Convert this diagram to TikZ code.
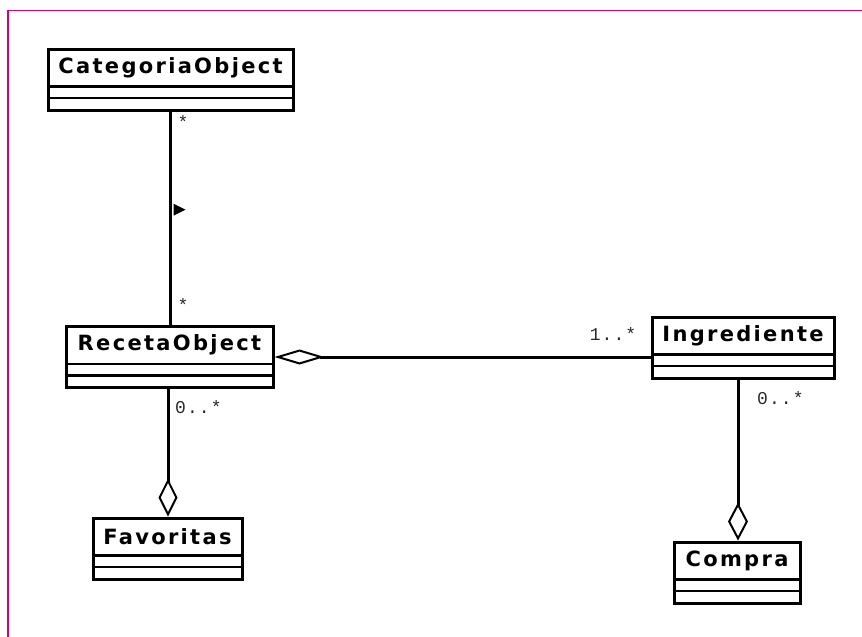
\documentclass[tikz,border=0pt]{standalone}
\usepackage{fontspec}
\setmainfont{DejaVu Sans}
\newfontfamily\clsfont[LetterSpace=11]{DejaVu Sans Bold}
\newfontfamily\multfont[LetterSpace=6]{Liberation Mono}
\usetikzlibrary{arrows.meta,calc}
\definecolor{framepink}{RGB}{214,0,112}
\definecolor{multgray}{RGB}{40,40,40}
\tikzset{
  classbox/.style={draw, line width=3pt, inner sep=0pt, fill=white},
  classname/.style={font=\clsfont\fontsize{21}{21}\selectfont, inner sep=0pt, anchor=center},
  divider/.style={line width=2.6pt},
  assoc/.style={line width=3pt},
  mult/.style={font=\multfont\fontsize{18}{18}\selectfont, text=multgray, inner sep=0pt},
}
% class box: name, centre, width, label  (y grows downwards)
\newcommand{\umlclass}[4]{%
  \node[classbox, minimum width=#3pt, minimum height=61pt] (#1) at (#2) {};
  \node[classname] (#1-name) at ($(#1.north)+(0,20)$) {#4};
  \draw[divider] ($(#1.north west)+(0,39)$) -- ($(#1.north east)+(0,39)$);
  \draw[divider] ($(#1.north west)+(0,50.5)$) -- ($(#1.north east)+(0,50.5)$);
}
\begin{document}
\begin{tikzpicture}[x=1pt, y=-1pt]
  \useasboundingbox (0,0) rectangle (862,637);
  % page frame
  \draw[framepink, line width=1.5pt] (8,637) -- (8,10.5) -- (862,10.5);

  % classes
  \umlclass{cat}{170.5,79.5}{245}{CategoriaObject}
  \umlclass{rec}{169.5,357}{207}{RecetaObject}
  \umlclass{ing}{743,347.5}{182}{Ingrediente}
  \umlclass{fav}{167.5,548.5}{149}{Favoritas}
  \umlclass{com}{737,572.5}{126}{Compra}

  % association CategoriaObject -- RecetaObject
  \coordinate (catbot) at (cat.south);
  \coordinate (rectop) at (cat.south |- rec.north);
  \draw[assoc] (catbot) -- (rectop);
  \node[mult, anchor=west] (m1) at ($(catbot)+(7,10)$) {*};
  \node[mult, anchor=west] (m2) at ($(rectop)+(7,-20)$) {*};
  \coordinate (dir) at ($(catbot)!0.46!(rectop)$);
  \fill ($(dir)+(3,-6)$) -- ($(dir)+(15,0)$) -- ($(dir)+(3,6)$) -- cycle;

  % aggregation RecetaObject -- Ingrediente
  \coordinate (ingleft) at (rec.east -| ing.west);
  \draw[assoc, {Diamond[open, length=50pt, width=15pt, line width=2pt]}-] (rec.east) -- (ingleft);
  \node[mult, anchor=east] (m3) at ($(ing.north west)+(-14,18)$) {1..*};

  % aggregation Favoritas -- RecetaObject
  \coordinate (recbot) at ($(rec.south)+(-1.5,0)$);
  \coordinate (favtop) at (recbot |- fav.north);
  \draw[assoc, -{Diamond[open, length=38pt, width=19pt, line width=2pt]}] (recbot) -- (favtop);
  \node[mult, anchor=west] (m4) at ($(recbot)+(7,18)$) {0..*};

  % aggregation Compra -- Ingrediente
  \coordinate (ingbot) at ($(ing.south)+(-5,0)$);
  \coordinate (comtop) at (ingbot |- com.north);
  \draw[assoc, -{Diamond[open, length=38pt, width=20pt, line width=2pt]}] (ingbot) -- (comtop);
  \node[mult, anchor=west] (m5) at ($(ingbot)+(19,19)$) {0..*};
\end{tikzpicture}
\end{document}
